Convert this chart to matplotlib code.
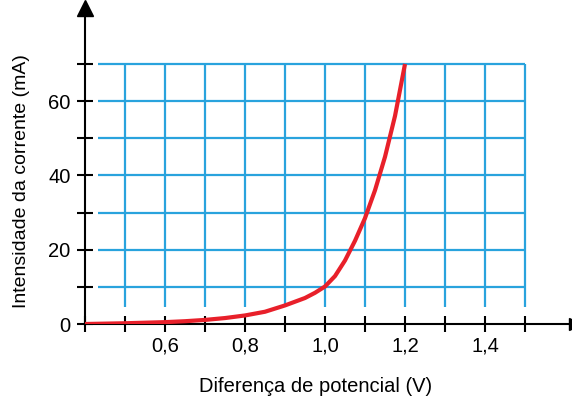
import matplotlib
matplotlib.use("Agg")
import matplotlib.pyplot as plt

# tensao (V) x corrente (mA)
tensao = [0.4, 0.5, 0.6, 0.65, 0.7, 0.75, 0.8, 0.85, 0.9, 0.925, 0.95, 0.975,
          1.0, 1.025, 1.05, 1.075, 1.1, 1.125, 1.15, 1.175, 1.2]
corrente = [0, 0.2, 0.5, 0.75, 1.1, 1.6, 2.3, 3.3, 5.0, 6.0, 7.0, 8.4,
            10.1, 12.9, 17.1, 22.4, 28.5, 36, 45, 56, 70]

x_ticks = [0.4, 0.5, 0.6, 0.7, 0.8, 0.9, 1.0, 1.1, 1.2, 1.3, 1.4, 1.5]
x_labels = ["", "", "0,6", "", "0,8", "", "1,0", "", "1,2", "", "1,4", ""]
y_ticks = [0, 10, 20, 30, 40, 50, 60, 70]
y_labels = ["0", "", "20", "", "40", "", "60", ""]

plt.rcParams['font.family'] = ['Liberation Sans', 'DejaVu Sans']

W, H = 572, 405
fig = plt.figure(figsize=(W / 100, H / 100), dpi=100, facecolor="white")
ax = fig.add_axes([85 / W, (H - 324) / H, (575 - 85) / W, (324 - 8) / H])

x_max = 0.4 + (575 - 85) / 400
y_max = (324 - 8) / (260 / 70)
ax.set_xlim(0.4, x_max)
ax.set_ylim(0, y_max)

blue = "#29a3dd"
ax.vlines(x_ticks[1:], 4.6, 70, color=blue, lw=1.6, zorder=1)
ax.hlines(y_ticks[1:], 0.433, 1.5, color=blue, lw=1.6, zorder=1)

ax.plot(tensao, corrente, color="#e8202a", lw=3, solid_joinstyle="round",
        solid_capstyle="butt", zorder=3)

for s in ["top", "right"]:
    ax.spines[s].set_visible(False)
for s in ["left", "bottom"]:
    ax.spines[s].set_linewidth(1.5)
    ax.spines[s].set_color("black")

# setas nas pontas dos eixos
ax.plot(1, 0, ">", color="black", ms=9, transform=ax.transAxes, clip_on=False)
ax.plot(0, 1, "^", color="black", ms=11, transform=ax.transAxes, clip_on=False)

ax.set_xticks(x_ticks)
ax.set_xticklabels(x_labels)
ax.set_yticks(y_ticks)
ax.set_yticklabels(y_labels)
ax.tick_params(axis="x", direction="inout", length=12, width=1.5, labelsize=14.5, pad=3)
ax.tick_params(axis="y", direction="inout", length=11, width=1.5, labelsize=14.5, pad=5)

ax.set_xlabel("Diferença de potencial (V)", fontsize=14.5)
ax.set_ylabel("Intensidade da corrente (mA)", fontsize=14)
ax.xaxis.set_label_coords((316 - 85) / (575 - 85), -(386 - 324) / (324 - 8))
ax.xaxis.label.set_va("center")
ax.yaxis.set_label_coords(-(85 - 22) / (575 - 85), (324 - 181) / (324 - 8))
ax.yaxis.label.set_va("center")

fig.savefig("out.png", dpi=100, facecolor="white")
